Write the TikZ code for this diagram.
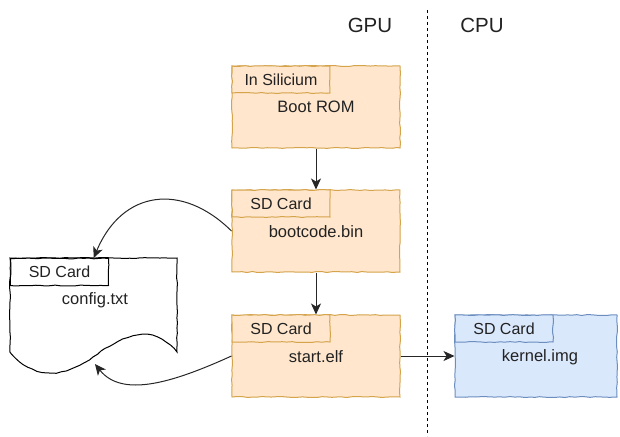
\documentclass[tikz,border=0pt]{standalone}
\usepackage{fontspec}
\setmainfont{Liberation Sans}
\usetikzlibrary{arrows.meta,decorations.pathmorphing}
\definecolor{orfill}{HTML}{FFE6CC}
\definecolor{ordraw}{HTML}{D4A34A}
\definecolor{blfill}{HTML}{DAE8FC}
\definecolor{bldraw}{HTML}{6C8EBF}
\definecolor{txt}{HTML}{222222}
\begin{document}
\begin{tikzpicture}[x=1pt,y=-1pt,
  sketch/.style={decorate,decoration={random steps,segment length=5pt,amplitude=0.5pt}},
  box/.style={sketch,line width=1pt,minimum width=168pt,minimum height=82pt,inner sep=0pt},
  orange/.style={fill=orfill,draw=ordraw},
  blue/.style={fill=blfill,draw=bldraw},
  tab/.style={sketch,line width=1pt,minimum width=98pt,minimum height=27pt,inner sep=0pt,anchor=north west,text=txt,font=\fontsize{16}{19}\selectfont},
  lbl/.style={text=txt,font=\fontsize{16.5}{19}\selectfont},
  head/.style={text=txt,font=\fontsize{20.5}{24}\selectfont},
  arr/.style={-{Stealth[length=11pt,width=10pt,inset=3pt]},line width=1pt,draw=black!85}]
\pgfmathsetseed{7}
\useasboundingbox (0,0) rectangle (620,436);
% lane divider
\coordinate (divtop) at (427,10);
\coordinate (divbot) at (427,436);
\draw[line width=1pt,dash pattern=on 3pt off 3pt] (divtop) -- (divbot);
\node[head] (gpu) at (370,25) {GPU};
\node[head] (cpu) at (482,25) {CPU};
% boxes
\node[box,orange] (rom) at (316,107) {};
\node[tab,orange] (romtab) at (rom.north west) {In Silicium};
\node[lbl] (romlbl) at (316,107) {Boot ROM};
\node[box,orange] (boot) at (316,231) {};
\node[tab,orange] (boottab) at (boot.north west) {SD Card};
\node[lbl] (bootlbl) at (316,232) {bootcode.bin};
\node[box,orange] (start) at (316,356) {};
\node[tab,orange] (starttab) at (start.north west) {SD Card};
\node[lbl] (startlbl) at (316,357) {start.elf};
\node[box,blue,minimum width=162pt] (kern) at (536,356) {};
\node[tab,blue] (kerntab) at (kern.north west) {SD Card};
\node[lbl] (kernlbl) at (540,357) {kernel.img};
% document shape
\draw[sketch,line width=1pt,fill=white] (10,258) -- (177,258) -- (177,352)
  .. controls (150,322) and (125,335) .. (93,357)
  .. controls (62,380) and (32,378) .. (10,352) -- cycle;
\node[minimum width=167pt,minimum height=95pt,inner sep=0pt,anchor=north west] (cfg) at (10,258) {};
\node[tab,draw=black,fill=white] (cfgtab) at (cfg.north west) {SD Card};
\node[lbl] (cfglbl) at (95,300) {config.txt};
\coordinate (cfgin) at (95,364);
% connectors
\draw[arr] (rom) -- (boot);
\draw[arr] (boot) -- (start);
\draw[arr] (start) -- (kern);
\draw[arr] (boot.west) .. controls (182,182) and (122,190) .. (cfg.north);
\draw[arr] (start.west) .. controls (172,383) and (122,398) .. (cfgin);
\end{tikzpicture}
\end{document}
